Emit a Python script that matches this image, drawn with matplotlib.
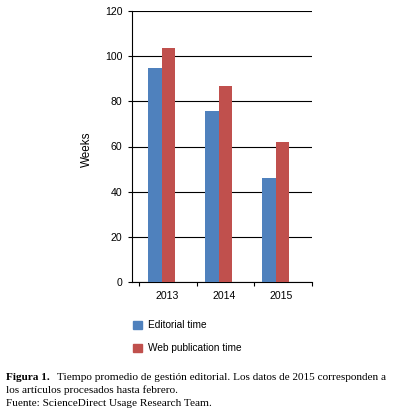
import matplotlib
matplotlib.use("Agg")
import matplotlib.pyplot as plt
import numpy as np

years = ["2013", "2014", "2015"]
editorial = [94.6, 75.6, 45.9]
web = [103.5, 86.6, 61.8]
series_names = ["Editorial time", "Web publication time"]
yticks = [0, 20, 40, 60, 80, 100, 120]

W, H = 396, 416
fig = plt.figure(figsize=(W / 100, H / 100), dpi=100)
# axes in pixels: left 132, right 312, top 11, bottom 282
ax = fig.add_axes([132 / W, 1 - 282 / H, 180 / W, 271 / H])

blue = "#4F81BD"
red = "#C0504D"
x = np.arange(len(years))
bw = 0.237
ax.bar(x - bw / 2, editorial, bw, color=blue, zorder=3, label=series_names[0])
ax.bar(x + bw / 2, web, bw, color=red, zorder=3, label=series_names[1])

ax.set_xlim(-0.5175, 2.64)
ax.set_ylim(0, 120)
ax.set_yticks(yticks)
ax.set_yticklabels([str(v) for v in yticks], fontsize=7.6, fontfamily="Liberation Sans")
ax.tick_params(axis="y", length=3, width=0.8, pad=4)
ax.yaxis.grid(True, color="black", linewidth=0.8, zorder=0)
ax.set_axisbelow(True)

# category tick marks
ax.set_xticks([-0.395, 0.623, 1.623, 2.64])
ax.set_xticklabels([])
ax.tick_params(axis="x", length=3, width=0.8, direction="out")
for i, yr in enumerate(years):
    ax.text(i + 0.1, -3.8, yr, ha="center", va="top", fontsize=7.6,
            fontfamily="Liberation Sans", transform=ax.transData)

for s in ["top", "right"]:
    ax.spines[s].set_visible(False)
ax.spines["left"].set_linewidth(0.8)
ax.spines["bottom"].set_linewidth(0.8)

fig.text(87 / W, 1 - 149 / H, "Weeks", rotation=90, ha="center", va="center",
         fontsize=8.4, fontfamily="Liberation Sans")

# legend
for i, (name, col) in enumerate(zip(series_names, [blue, red])):
    yc = 325 + i * 23
    fig.patches.append(plt.Rectangle((133 / W, 1 - (yc + 4) / H), 9 / W, 8 / H,
                                     transform=fig.transFigure, color=col))
    fig.text(148 / W, 1 - yc / H, name, ha="left", va="center", fontsize=7.3,
             fontfamily="Liberation Sans")

# caption
cap_font = "Liberation Serif"
fig.text(6 / W, 1 - 377 / H, "Figura 1.", ha="left", va="center", fontsize=8.1,
         fontweight="bold", fontfamily=cap_font)
fig.text(57 / W, 1 - 377 / H,
         "Tiempo promedio de gestión editorial. Los datos de 2015 corresponden a",
         ha="left", va="center", fontsize=8.1, fontfamily=cap_font)
fig.text(6 / W, 1 - 390 / H, "los artículos procesados hasta febrero.",
         ha="left", va="center", fontsize=8.1, fontfamily=cap_font)
fig.text(6 / W, 1 - 403 / H, "Fuente: ScienceDirect Usage Research Team.",
         ha="left", va="center", fontsize=8.1, fontfamily=cap_font)

fig.savefig("out.png", dpi=100)
